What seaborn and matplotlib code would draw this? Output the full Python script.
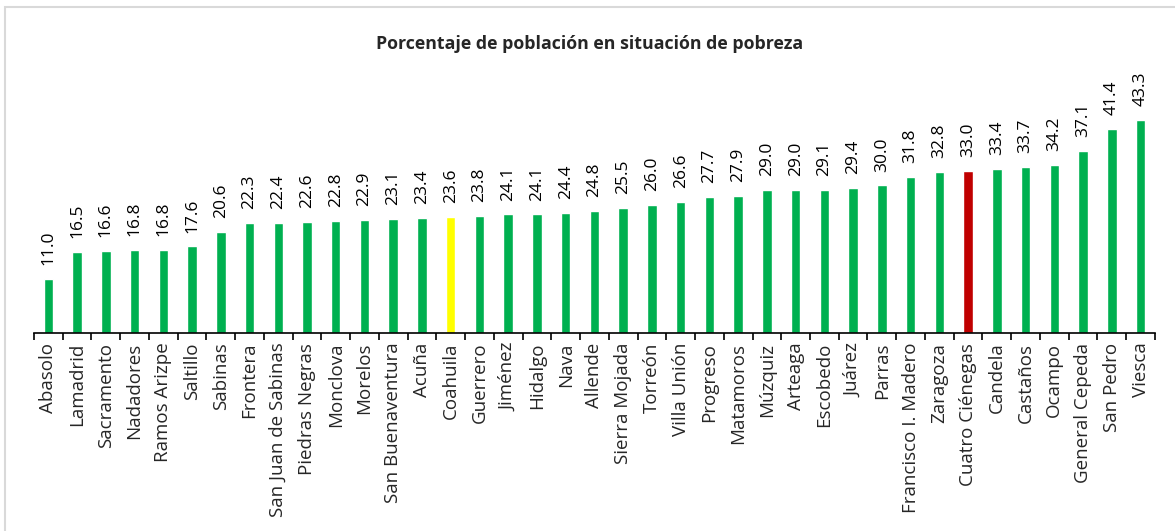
import numpy as np
import pandas as pd
import matplotlib
matplotlib.use("Agg")
import matplotlib.pyplot as plt
import seaborn as sns
from matplotlib.patches import Rectangle

municipios = [
    "Abasolo", "Lamadrid", "Sacramento", "Nadadores", "Ramos Arizpe",
    "Saltillo", "Sabinas", "Frontera", "San Juan de Sabinas",
    "Piedras Negras", "Monclova", "Morelos", "San Buenaventura", "Acuña",
    "Coahuila", "Guerrero", "Jiménez", "Hidalgo", "Nava", "Allende",
    "Sierra Mojada", "Torreón", "Villa Unión", "Progreso", "Matamoros",
    "Múzquiz", "Arteaga", "Escobedo", "Juárez", "Parras",
    "Francisco I. Madero", "Zaragoza", "Cuatro Ciénegas", "Candela",
    "Castaños", "Ocampo", "General Cepeda", "San Pedro", "Viesca",
]
pobreza = [
    11.0, 16.5, 16.6, 16.8, 16.8, 17.6, 20.6, 22.3, 22.4, 22.6,
    22.8, 22.9, 23.1, 23.4, 23.6, 23.8, 24.1, 24.1, 24.4, 24.8,
    25.5, 26.0, 26.6, 27.7, 27.9, 29.0, 29.0, 29.1, 29.4, 30.0,
    31.8, 32.8, 33.0, 33.4, 33.7, 34.2, 37.1, 41.4, 43.3,
]
estado = "Coahuila"
destacado = "Cuatro Ciénegas"

VERDE = "#00B050"
AMARILLO = "#FFFF00"
ROJO = "#C00000"

df = pd.DataFrame({"municipio": municipios, "pobreza": pobreza})
colores = [
    AMARILLO if m == estado else ROJO if m == destacado else VERDE
    for m in municipios
]

sns.set_theme(style="white")
plt.rcParams["font.family"] = ["Open Sans", "DejaVu Sans"]

fig = plt.figure(figsize=(11.75, 5.31), dpi=100)
ax = fig.add_axes([0.0289, 0.373, 0.9540, 0.463])

sns.barplot(
    data=df, x="municipio", y="pobreza", hue="municipio",
    palette=colores, legend=False, width=0.33, saturation=1, ax=ax,
    order=municipios, hue_order=municipios,
)
for cont in ax.containers:
    ax.bar_label(cont, fmt="%.1f", rotation=90, padding=10,
                 fontsize=12.5, color="black")

n = len(municipios)
ax.set_xlim(-0.5, n - 0.5)
ax.set_ylim(0, 50)
ax.set_yticks([])
ax.set_xlabel("")
ax.set_ylabel("")
ax.set_xticks(np.arange(-0.5, n, 1.0))
ax.set_xticklabels([])
ax.set_xticks(np.arange(n), minor=True)
ax.set_xticklabels(municipios, minor=True, rotation=90, fontsize=13.5)
ax.tick_params(axis="x", which="major", direction="out", length=5,
               width=1.2, color="black", bottom=True)
ax.tick_params(axis="x", which="minor", length=0, pad=7)
for side in ["top", "right", "left"]:
    ax.spines[side].set_visible(False)
ax.spines["bottom"].set_color("black")
ax.spines["bottom"].set_linewidth(1.2)

fig.text(0.502, 0.917, "Porcentaje de población en situación de pobreza",
         ha="center", va="center", fontsize=12.8, fontweight="bold")

fig.patches.append(Rectangle(
    (5 / 1175, -0.05), 1.2, 1 - 7 / 531 + 0.05,
    transform=fig.transFigure, fill=False,
    edgecolor="#D9D9D9", linewidth=1.5,
))

fig.savefig("out.png", dpi=100)
